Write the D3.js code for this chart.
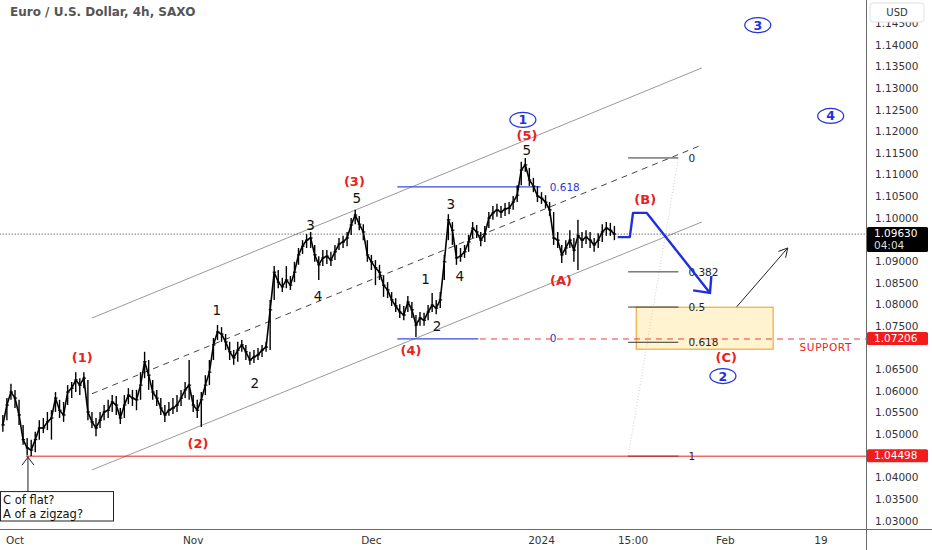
<!DOCTYPE html>
<html>
<head>
<meta charset="utf-8">
<script src="https://cdn.jsdelivr.net/npm/d3@7"></script>
<style>
  body { margin: 0; background: #fff; }
  svg { display: block; }
  text { font-family: "DejaVu Sans", Verdana, sans-serif; }
</style>
</head>
<body>
<script>
// EUR/USD 4h at half-day steps (trading days from Oct 2)
var firstDay = -1.5;
var dayStep = 0.5;

var closes = [1.0522,1.0568,1.0598,1.0584,1.0545,1.0488,1.0469,1.0464,1.0488,1.0515,
  1.0515,1.0529,1.0538,1.0584,1.0556,1.0545,1.0598,1.0607,1.0626,1.0614,
  1.0630,1.0552,1.0529,1.0515,1.0533,1.0552,1.0556,1.0575,1.0568,1.0538,
  1.0568,1.0591,1.0584,1.0580,1.0614,1.0668,1.0637,1.0598,1.0584,1.0561,
  1.0545,1.0556,1.0561,1.0568,1.0584,1.0603,1.0614,1.0568,1.0556,1.0580,
  1.0614,1.0644,1.0707,1.0737,1.0732,1.0714,1.0691,1.0677,1.0695,1.0707,
  1.0691,1.0672,1.0679,1.0684,1.0695,1.0702,1.0788,1.0875,1.0852,1.0841,
  1.0857,1.0845,1.0875,1.0915,1.0935,1.0949,1.0954,1.0915,1.0892,1.0908,
  1.0912,1.0903,1.0922,1.0940,1.0945,1.0954,1.0984,1.1007,1.0986,1.0968,
  1.0915,1.0899,1.0885,1.0875,1.0845,1.0834,1.0811,1.0797,1.0783,1.0776,
  1.0806,1.0788,1.0753,1.0769,1.0764,1.0783,1.0799,1.0792,1.0811,1.0899,
  1.0996,1.0972,1.0908,1.0912,1.0922,1.0945,1.0977,1.0968,1.0949,1.0963,
  1.1000,1.1012,1.1019,1.1014,1.1021,1.1023,1.1037,1.1053,1.1111,1.1123,
  1.1088,1.1074,1.1051,1.1046,1.1037,1.1019,1.0954,1.0949,1.0915,1.0931,
  1.0949,1.0926,1.0959,1.0949,1.0956,1.0949,1.0938,1.0949,1.0968,1.0977,
  1.0972,1.0963];

var highs = [1.0545,1.0584,1.0617,1.0603,1.0580,1.0522,1.0492,1.0488,1.0506,1.0533,
  1.0538,1.0552,1.0556,1.0598,1.0580,1.0575,1.0614,1.0621,1.0644,1.0630,
  1.0644,1.0626,1.0552,1.0538,1.0552,1.0568,1.0580,1.0591,1.0589,1.0561,
  1.0591,1.0607,1.0603,1.0603,1.0644,1.0691,1.0672,1.0626,1.0603,1.0584,
  1.0568,1.0575,1.0584,1.0591,1.0603,1.0621,1.0672,1.0591,1.0580,1.0598,
  1.0637,1.0672,1.0723,1.0753,1.0748,1.0732,1.0714,1.0695,1.0714,1.0718,
  1.0707,1.0691,1.0695,1.0700,1.0707,1.0714,1.0811,1.0889,1.0880,1.0862,
  1.0889,1.0866,1.0899,1.0931,1.0949,1.0963,1.0968,1.0938,1.0912,1.0926,
  1.0926,1.0922,1.0938,1.0954,1.0959,1.0968,1.1000,1.1019,1.1005,1.0986,
  1.0949,1.0915,1.0903,1.0892,1.0868,1.0852,1.0829,1.0815,1.0801,1.0797,
  1.0820,1.0806,1.0776,1.0783,1.0781,1.0799,1.0827,1.0811,1.0829,1.0915,
  1.1009,1.0991,1.0938,1.0931,1.0938,1.0961,1.0991,1.0984,1.0968,1.0982,
  1.1014,1.1028,1.1033,1.1028,1.1035,1.1037,1.1051,1.1076,1.1130,1.1139,
  1.1116,1.1093,1.1074,1.1060,1.1053,1.1037,1.1014,1.0968,1.0938,1.0949,
  1.0972,1.0954,1.0996,1.0968,1.0972,1.0968,1.0954,1.0965,1.0986,1.0991,
  1.0989,1.0982];

var lows = [1.0506,1.0533,1.0580,1.0561,1.0522,1.0476,1.0452,1.0450,1.0459,1.0488,
  1.0503,1.0510,1.0488,1.0552,1.0538,1.0529,1.0568,1.0584,1.0598,1.0591,
  1.0607,1.0533,1.0515,1.0496,1.0515,1.0533,1.0538,1.0552,1.0545,1.0524,
  1.0538,1.0570,1.0566,1.0556,1.0580,1.0630,1.0603,1.0580,1.0566,1.0545,
  1.0529,1.0543,1.0547,1.0552,1.0566,1.0584,1.0580,1.0552,1.0538,1.0517,
  1.0591,1.0614,1.0672,1.0718,1.0714,1.0695,1.0672,1.0661,1.0668,1.0691,
  1.0672,1.0661,1.0665,1.0672,1.0679,1.0691,1.0695,1.0811,1.0838,1.0829,
  1.0838,1.0834,1.0852,1.0892,1.0917,1.0931,1.0931,1.0899,1.0857,1.0889,
  1.0894,1.0889,1.0903,1.0926,1.0931,1.0935,1.0961,1.0986,1.0972,1.0949,
  1.0899,1.0880,1.0845,1.0857,1.0818,1.0815,1.0797,1.0783,1.0769,1.0764,
  1.0783,1.0769,1.0725,1.0751,1.0751,1.0764,1.0783,1.0778,1.0792,1.0857,
  1.0949,1.0938,1.0892,1.0899,1.0908,1.0922,1.0954,1.0954,1.0935,1.0945,
  1.0977,1.0996,1.1003,1.1000,1.1005,1.1009,1.1019,1.1037,1.1076,1.1107,
  1.1074,1.1060,1.1037,1.1033,1.1023,1.1005,1.0938,1.0931,1.0896,1.0915,
  1.0931,1.0899,1.0880,1.0931,1.0940,1.0931,1.0922,1.0931,1.0945,1.0959,
  1.0959,1.0949];

var lastPrice = 1.0963;
var lowPrice = 1.04498;
var supportPrice = 1.07206;

// price axis and time axis (1.07000 and 1.09500 sit under the price tags)
var priceTicks = [1.030,1.035,1.040,1.045,1.050,1.055,1.060,1.065,1.075,1.080,
  1.085,1.090,1.100,1.105,1.110,1.115,1.120,1.125,1.130,1.135,1.140,1.145];
var timeTickDays = [0, 22, 44, 65, 76.3, 87.7, 99.5];
var timeTickLabels = ["Oct", "Nov", "Dec", "2024", "15:00", "Feb", "19"];

// channel (start day, end day) and prices at both ends
var channelDays = [9.5, 84.8];
var channelUpper = [1.0769, 1.1347];
var channelMiddle = [1.0594, 1.1169];
var channelLower = [1.0418, 1.0991];

// fib drawn from wave (4) low
var blueFibDays = [47.2, 64.9];
var blueFibZero = 1.0721;
var blueFibOne = 1.1289;
var blueFibLevels = [0, 0.618];

// fib from the 1.04498 low to the wave 1 top
var fibDays = [75.7, 81.9];
var fibZero = 1.1139;
var fibOne = 1.04498;
var fibLevels = [0, 0.382, 0.5, 0.618, 1];

var zoneDays = [76.7, 93.6];
var zonePrices = [1.0794, 1.0697];

var pathDays = [74.4, 75.9, 76.3, 78.0, 85.8];
var pathPrices = [1.0956, 1.0956, 1.1012, 1.1012, 1.0827];

var upArrowDays = [89.1, 95.4];
var upArrowPrices = [1.0795, 1.0931];

var redLabels = [
  ["(1)", 8.3, 1.0679], ["(2)", 22.6, 1.0480], ["(3)", 41.9, 1.1085],
  ["(4)", 48.9, 1.0693], ["(5)", 63.2, 1.1190], ["(A)", 67.4, 1.0855],
  ["(B)", 77.8, 1.1042], ["(C)", 87.8, 1.0679]
];
var blackLabels = [
  ["1", 24.9, 1.0788], ["2", 29.6, 1.0619], ["3", 36.5, 1.0984], ["4", 37.4, 1.0820],
  ["5", 42.2, 1.1045], ["1", 50.7, 1.0859], ["2", 52.1, 1.0751], ["3", 53.8, 1.1033],
  ["4", 54.9, 1.0866], ["5", 63.2, 1.1157]
];
var circleLabels = [
  ["1", 62.7, 1.1227], ["2", 87.4, 1.0635], ["3", 91.7, 1.1446], ["4", 100.7, 1.1236]
];
var noteLines = ["C of flat?", "A of a zigzag?"];

var width = 932, height = 550;
var plotW = 866, plotH = 529;

var svg = d3.select("body").append("svg")
  .attr("width", width)
  .attr("height", height);

var x = d3.scaleLinear().domain([-15 / 8.1, 851 / 8.1]).range([0, plotW]);
var y = d3.scaleLinear().domain([1.03, 1.14]).range([521, 45]);

svg.append("clipPath").attr("id", "plotclip")
  .append("rect").attr("width", plotW).attr("height", plotH);

var plot = svg.append("g").attr("clip-path", "url(#plotclip)");

function seg(g, d0, d1, p0, p1) {
  return g.append("line")
    .attr("x1", x(d0)).attr("x2", x(d1))
    .attr("y1", y(p0)).attr("y2", y(p1));
}

// channel
seg(plot, channelDays[0], channelDays[1], channelUpper[0], channelUpper[1])
  .attr("stroke", "#9a9a9a").attr("stroke-width", 1);
seg(plot, channelDays[0], channelDays[1], channelLower[0], channelLower[1])
  .attr("stroke", "#9a9a9a").attr("stroke-width", 1);
seg(plot, channelDays[0], channelDays[1], channelMiddle[0], channelMiddle[1])
  .attr("stroke", "#444").attr("stroke-width", 1).attr("stroke-dasharray", "6,5");

// yellow zone
plot.append("rect")
  .attr("x", x(zoneDays[0]))
  .attr("y", y(zonePrices[0]))
  .attr("width", x(zoneDays[1]) - x(zoneDays[0]))
  .attr("height", y(zonePrices[1]) - y(zonePrices[0]))
  .attr("fill", "#fff4cf")
  .attr("stroke", "#f2a93b")
  .attr("stroke-width", 1.2);

// black fib levels + dotted trend line
seg(plot, fibDays[0], fibDays[1], fibOne, fibZero)
  .attr("stroke", "#cfcfcf").attr("stroke-width", 1).attr("stroke-dasharray", "1,2");
fibLevels.forEach(function(l) {
  var p = fibZero + (fibOne - fibZero) * l;
  seg(plot, fibDays[0], fibDays[1], p, p).attr("stroke", "#333").attr("stroke-width", 1);
  plot.append("text")
    .attr("x", x(fibDays[1]) + 10).attr("y", y(p))
    .attr("dy", "0.35em")
    .attr("font-size", 10.5).attr("fill", "#222")
    .text(String(l));
});

// blue fib levels
blueFibLevels.forEach(function(l, i) {
  var p = blueFibZero + (blueFibOne - blueFibZero) * l;
  var endDay = i === 0 ? 57.2 : blueFibDays[1];
  seg(plot, blueFibDays[0], endDay, p, p).attr("stroke", "#3848e8").attr("stroke-width", 1.2);
  plot.append("text")
    .attr("x", x(blueFibDays[1]) + 9).attr("y", y(p))
    .attr("dy", "0.35em")
    .attr("font-size", 10.5).attr("fill", "#2b38d8")
    .text(String(l));
});

// support and low lines
seg(plot, 57.4, 107, supportPrice, supportPrice)
  .attr("stroke", "#f03a3a").attr("stroke-width", 1).attr("stroke-dasharray", "6,5");
seg(plot, 1.35, 107, lowPrice, lowPrice)
  .attr("stroke", "#f01c1c").attr("stroke-width", 1);
seg(plot, -3, 107, lastPrice, lastPrice)
  .attr("stroke", "#333").attr("stroke-width", 1).attr("stroke-dasharray", "1,2");

// price bars
var bars = closes.map(function(c, i) {
  return { day: firstDay + i * dayStep, close: c, high: highs[i], low: lows[i] };
});

plot.append("g").selectAll("line")
  .data(bars).enter().append("line")
  .attr("x1", d => x(d.day)).attr("x2", d => x(d.day))
  .attr("y1", d => y(d.high)).attr("y2", d => y(d.low))
  .attr("stroke", "#000").attr("stroke-width", 1.4);

plot.append("g").selectAll("line")
  .data(bars).enter().append("line")
  .attr("x1", d => x(d.day) - 1.5).attr("x2", d => x(d.day) + 2)
  .attr("y1", d => y(d.close)).attr("y2", d => y(d.close))
  .attr("stroke", "#000").attr("stroke-width", 1.2);

plot.append("path")
  .datum(bars)
  .attr("fill", "none")
  .attr("stroke", "#000")
  .attr("stroke-width", 1.6)
  .attr("d", d3.line().x(d => x(d.day)).y(d => y(d.close)));

// blue forecast path with arrow head
var fpts = pathDays.map((d, i) => [x(d), y(pathPrices[i])]);
plot.append("path")
  .attr("d", d3.line()(fpts))
  .attr("fill", "none").attr("stroke", "#1f2fe0").attr("stroke-width", 2.4)
  .attr("stroke-linejoin", "round");
function head(g, pts, len, spread, color, w) {
  var a = pts[pts.length - 1], b = pts[pts.length - 2];
  var ang = Math.atan2(b[1] - a[1], b[0] - a[0]);
  var p1 = [a[0] + len * Math.cos(ang - spread), a[1] + len * Math.sin(ang - spread)];
  var p2 = [a[0] + len * Math.cos(ang + spread), a[1] + len * Math.sin(ang + spread)];
  g.append("path").attr("d", d3.line()([p1, a, p2]))
    .attr("fill", "none").attr("stroke", color).attr("stroke-width", w);
}
head(plot, fpts, 17, 0.75, "#1f2fe0", 2.4);

// black up arrow
var upts = upArrowDays.map((d, i) => [x(d), y(upArrowPrices[i])]);
plot.append("path").attr("d", d3.line()(upts))
  .attr("fill", "none").attr("stroke", "#222").attr("stroke-width", 1);
head(plot, upts, 10, 0.5, "#222", 1);

// wave labels
redLabels.forEach(function(l) {
  plot.append("text")
    .attr("x", x(l[1])).attr("y", y(l[2])).attr("dy", "0.35em")
    .attr("text-anchor", "middle")
    .attr("font-size", 13).attr("font-weight", "bold").attr("fill", "#e8221c")
    .text(l[0]);
});
blackLabels.forEach(function(l) {
  plot.append("text")
    .attr("x", x(l[1])).attr("y", y(l[2])).attr("dy", "0.35em")
    .attr("text-anchor", "middle")
    .attr("font-size", 13.5).attr("fill", "#111")
    .text(l[0]);
});
circleLabels.forEach(function(l) {
  var g = plot.append("g").attr("transform", "translate(" + x(l[1]) + "," + y(l[2]) + ")");
  g.append("ellipse").attr("rx", 13).attr("ry", 7.5)
    .attr("fill", "none").attr("stroke", "#2230e0").attr("stroke-width", 1.2);
  g.append("text").attr("dy", "0.36em").attr("text-anchor", "middle")
    .attr("font-size", 12.5).attr("font-weight", "bold").attr("fill", "#2230e0")
    .text(l[0]);
});
plot.append("text")
  .attr("x", x(100.1)).attr("y", y(1.0702)).attr("dy", "0.35em")
  .attr("text-anchor", "middle")
  .attr("font-size", 10.5).attr("letter-spacing", 0.6).attr("fill", "#e8221c")
  .text("SUPPORT");

// note box with arrow at the low
var nb = plot.append("g");
seg(nb, 1.6, 1.6, 1.0368, lowPrice).attr("stroke", "#222").attr("stroke-width", 1);
var tip = [x(1.6), y(lowPrice) + 1];
nb.append("path").attr("d", d3.line()([[tip[0] - 6, tip[1] + 8], tip, [tip[0] + 6, tip[1] + 8]]))
  .attr("fill", "none").attr("stroke", "#222").attr("stroke-width", 1);
nb.append("rect")
  .attr("x", x(-1.85) + 0.5).attr("y", y(1.0368))
  .attr("width", x(12.1) - x(-1.85)).attr("height", y(1.0300) - y(1.0368))
  .attr("fill", "#fff").attr("stroke", "#222").attr("stroke-width", 1);
nb.selectAll("text.note")
  .data(noteLines).enter().append("text")
  .attr("class", "note")
  .attr("x", 3).attr("y", (d, i) => y(1.0368) + 8 + i * 14).attr("dy", "0.35em")
  .attr("font-size", 11.5).attr("fill", "#111")
  .text(d => d);

// title
svg.append("text").attr("x", 10).attr("y", 12).attr("dy", "0.35em")
  .attr("font-size", 12).attr("font-weight", "bold").attr("fill", "#555")
  .text("Euro / U.S. Dollar, 4h, SAXO");

// axes frame
svg.append("line").attr("x1", plotW + 0.5).attr("x2", plotW + 0.5)
  .attr("y1", 0).attr("y2", height).attr("stroke", "#6b6b6b");
svg.append("line").attr("x1", 0).attr("x2", width)
  .attr("y1", plotH + 0.5).attr("y2", plotH + 0.5).attr("stroke", "#6b6b6b");

svg.append("g").selectAll("text")
  .data(priceTicks).enter().append("text")
  .attr("x", 875).attr("y", d => y(d)).attr("dy", "0.35em")
  .attr("font-size", 10.5).attr("fill", "#333")
  .text(d => d3.format(".5f")(d));

svg.append("g").selectAll("text")
  .data(timeTickDays).enter().append("text")
  .attr("x", d => x(d)).attr("y", 540).attr("dy", "0.35em")
  .attr("text-anchor", "middle")
  .attr("font-size", 10.5).attr("fill", "#333")
  .text((d, i) => timeTickLabels[i]);

// price labels on the axis
function priceTag(p, fill, lines) {
  var h = lines.length > 1 ? 25 : 13;
  var top = y(p) - 7;
  svg.append("rect").attr("x", plotW + 1).attr("y", top)
    .attr("width", 61).attr("height", h).attr("rx", 1.5).attr("fill", fill);
  lines.forEach(function(t, i) {
    svg.append("text").attr("x", 874).attr("y", top + 6.5 + i * 11.5).attr("dy", "0.35em")
      .attr("font-size", 10.5).attr("fill", i === 0 ? "#fff" : "#ddd")
      .text(t);
  });
}
priceTag(lastPrice, "#000", [d3.format(".5f")(lastPrice), "04:04"]);
priceTag(supportPrice, "#f21c1c", [d3.format(".5f")(supportPrice)]);
priceTag(lowPrice, "#f21c1c", [d3.format(".5f")(lowPrice)]);

// currency box
svg.append("rect").attr("x", 870).attr("y", 3).attr("width", 54).attr("height", 19)
  .attr("rx", 3).attr("fill", "#fff").attr("stroke", "#e0e0e0");
svg.append("text").attr("x", 897).attr("y", 12.5).attr("dy", "0.35em")
  .attr("text-anchor", "middle").attr("font-size", 10).attr("fill", "#333")
  .text("USD");
</script>
</body>
</html>
